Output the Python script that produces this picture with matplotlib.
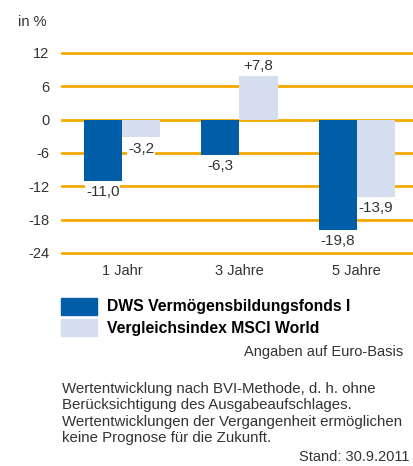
import matplotlib.pyplot as plt
import numpy as np

plt.rcParams['font.family'] = ['Liberation Sans', 'DejaVu Sans']

# Daten
zeitraeume = ['1 Jahr', '3 Jahre', '5 Jahre']
fonds = [-11.0, -6.3, -19.8]
index = [-3.2, 7.8, -13.9]
fonds_labels = ['-11,0', '-6,3', '-19,8']
index_labels = ['-3,2', '+7,8', '-13,9']
yticks = [12, 6, 0, -6, -12, -18, -24]
legend_names = ['DWS Vermögensbildungsfonds I', 'Vergleichsindex MSCI World']

dunkel = '#005ea8'
hell = '#d4deee'
orange = '#f5a800'
grau = '#333333'

fig = plt.figure(figsize=(4.14, 4.66), dpi=100)
ax = fig.add_axes([62 / 414, 1 - 253 / 466, 350 / 414, 200 / 466])

x = np.arange(len(zeitraeume))
w = 0.325

for y in yticks:
    ax.axhline(y, color=orange, lw=2, clip_on=False, zorder=1)

ax.bar(x - w / 2, fonds, w, color=dunkel, zorder=2)
ax.bar(x + w / 2, index, w, color=hell, zorder=2)

box = dict(facecolor='white', edgecolor='none', pad=0.5)
for i in range(len(x)):
    for xi, v, lab in [(x[i] - w / 2, fonds[i], fonds_labels[i]),
                       (x[i] + w / 2, index[i], index_labels[i])]:
        if v >= 0:
            ax.text(xi, v + 0.6, lab, ha='center', va='bottom', fontsize=11,
                    color=grau, zorder=3)
        else:
            ax.text(xi, v - 0.8, lab, ha='center', va='top', fontsize=11,
                    color=grau, bbox=box, zorder=3)

ax.set_xlim(-0.51, 2.47)
ax.set_ylim(-24, 12)
ax.set_yticks(yticks)
ax.set_yticklabels([str(t) for t in yticks])
ax.set_xticks(x)
ax.set_xticklabels(zeitraeume)
ax.tick_params(length=0, labelsize=10.5, colors=grau, pad=8)
ax.tick_params(axis='y', pad=9)
for s in ax.spines.values():
    s.set_visible(False)

fig.text(18 / 414, 1 - 22 / 466, 'in %', fontsize=10.5, color=grau, va='center')

# Legende
for k, (name, col) in enumerate(zip(legend_names, [dunkel, hell])):
    ytop = [299, 320][k]
    fig.patches.append(plt.Rectangle((61 / 414, 1 - (ytop + 16) / 466), 36 / 414, 17 / 466,
                                     transform=fig.transFigure, color=col))
    fig.text(107 / 414, 1 - (ytop + 8) / 466, name, fontsize=11.3, fontweight='bold',
             color='black', va='center')

fig.text(403 / 414, 1 - 352 / 466, 'Angaben auf Euro-Basis', fontsize=10.5,
         color=grau, ha='right', va='center')

fuss = ['Wertentwicklung nach BVI-Methode, d. h. ohne',
        'Berücksichtigung des Ausgabeaufschlages.',
        'Wertentwicklungen der Vergangenheit ermöglichen',
        'keine Prognose für die Zukunft.']
for k, z in enumerate(fuss):
    fig.text(62 / 414, 1 - (389 + 16.3 * k) / 466, z, fontsize=10.8, color=grau, va='center')
fig.text(410 / 414, 1 - 457 / 466, 'Stand: 30.9.2011', fontsize=10.5, color=grau,
         ha='right', va='center')

fig.savefig('out.png', dpi=100)
